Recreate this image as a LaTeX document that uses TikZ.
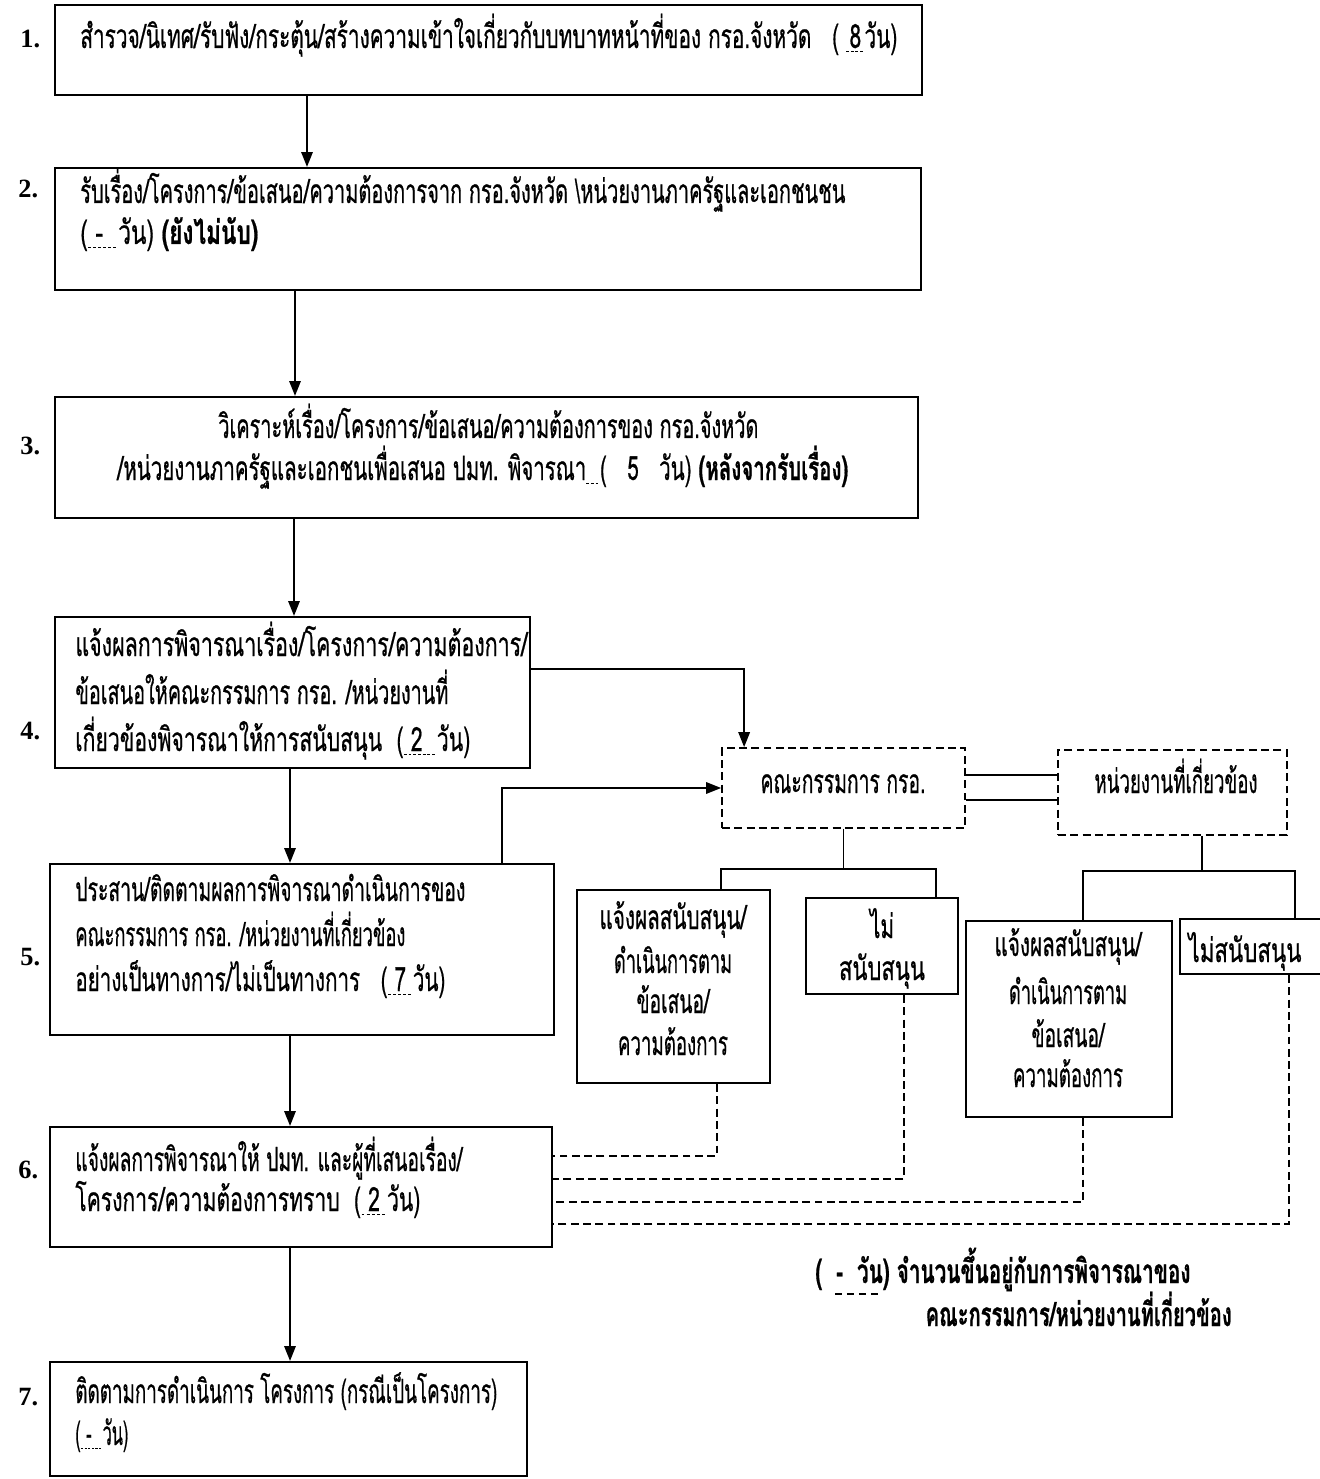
\documentclass[tikz,border=0pt]{standalone}
\usepackage{fontspec}
\usepackage{graphicx}
\setmainfont{Liberation Serif}
\newfontfamily\thai[Script=Thai,FakeBold=0.8]{Loma}
\usetikzlibrary{arrows.meta,calc,fit}
\newlength\px
\setlength\px{0.02cm}
% set a line of text to a given width (in px units), keeping its height
\newcommand\fitto[2]{\resizebox{#1\px}{\height}{#2}}
% text with a dashed underline
\newcommand\du[1]{\setbox0=\hbox{#1}\rlap{\copy0}\raisebox{-2.5pt}{\hbox to \wd0{\xleaders\hbox{\rule{2.5pt}{0.6pt}\hspace{1.5pt}}\hfil}}}

\begin{document}
\begin{tikzpicture}[x=0.02cm,y=-0.02cm,
  box/.style={draw, line width=1.2pt, inner sep=0pt},
  dbox/.style={draw, line width=1pt, dash pattern=on 4.5pt off 2.5pt, inner sep=0pt},
  txt/.style={inner sep=0pt, font=\thai\fontsize{19}{22}\selectfont, anchor=base west},
  ctxt/.style={txt, anchor=base},
  btxt/.style={txt, font=\thai\bfseries\fontsize{19}{22}\selectfont},
  num/.style={inner sep=0pt, font=\bfseries\fontsize{15}{18}\selectfont, anchor=base west},
  con/.style={line width=1pt},
  arr/.style={con, -{Triangle[length=8.5pt,width=6.5pt]}},
  dcon/.style={line width=1pt, dash pattern=on 4.5pt off 2.5pt},
]
\useasboundingbox[fill=white] (0,0) rectangle (1319,1479);

% ---------- main steps ----------
\node[box, fit={(55,5)(922,95)}] (b1) {};
\node[box, fit={(55,168)(921,290)}] (b2) {};
\node[box, fit={(55,397)(918,518)}] (b3) {};
\node[box, fit={(55,617)(530,768)}] (b4) {};
\node[box, fit={(50,864)(554,1035)}] (b5) {};
\node[box, fit={(50,1127)(552,1247)}] (b6) {};
\node[box, fit={(50,1362)(527,1476)}] (b7) {};

\node[num] (n1) at (20,48) {1.};
\node[num] (n2) at (18,198) {2.};
\node[num] (n3) at (20,455) {3.};
\node[num] (n4) at (20,739) {4.};
\node[num] (n5) at (20,965) {5.};
\node[num] (n6) at (18,1178) {6.};
\node[num] (n7) at (18,1405) {7.};

\node[txt] (t1) at (80,48) {\fitto{817}{สำรวจ/นิเทศ/รับฟัง/กระตุ้น/สร้างความเข้าใจเกี่ยวกับบทบาทหน้าที่ของ กรอ.จังหวัด\quad ( \du{\,8\,}วัน)}};

\node[txt] (t2a) at (80,203) {\fitto{765}{รับเรื่อง/โครงการ/ข้อเสนอ/ความต้องการจาก กรอ.จังหวัด \textbackslash หน่วยงานภาครัฐและเอกชนชน}};
\node[txt] (t2b) at (80,244) {\fitto{178}{(\du{\ -\ \ }วัน) \textbf{(ยังไม่นับ)}}};

\node[txt] (t3a) at (218,438) {\fitto{540}{วิเคราะห์เรื่อง/โครงการ/ข้อเสนอ/ความต้องการของ กรอ.จังหวัด}};
\node[txt] (t3b) at (117,480) {\fitto{731}{/หน่วยงานภาครัฐและเอกชนเพื่อเสนอ ปมท. พิจารณา\du{\ \ }(\quad 5\quad วัน) \textbf{(หลังจากรับเรื่อง)}}};

\node[txt] (t4a) at (75,656) {\fitto{452}{แจ้งผลการพิจารณาเรื่อง/โครงการ/ความต้องการ/}};
\node[txt] (t4b) at (75,704) {\fitto{373}{ข้อเสนอให้คณะกรรมการ กรอ. /หน่วยงานที่}};
\node[txt] (t4c) at (75,751) {\fitto{395}{เกี่ยวข้องพิจารณาให้การสนับสนุน \ (\du{\ 2\ \ }วัน)}};

\node[txt] (t5a) at (75,901) {\fitto{390}{ประสาน/ติดตามผลการพิจารณาดำเนินการของ}};
\node[txt] (t5b) at (75,946) {\fitto{330}{คณะกรรมการ กรอ. /หน่วยงานที่เกี่ยวข้อง}};
\node[txt] (t5c) at (75,991) {\fitto{370}{อย่างเป็นทางการ/ไม่เป็นทางการ\quad (\du{\ 7\ }วัน)}};

\node[txt] (t6a) at (75,1171) {\fitto{387}{แจ้งผลการพิจารณาให้ ปมท. และผู้ที่เสนอเรื่อง/}};
\node[txt] (t6b) at (75,1211) {\fitto{345}{โครงการ/ความต้องการทราบ \ (\du{\ 2\ }วัน)}};

\node[txt] (t7a) at (75,1403) {\fitto{422}{ติดตามการดำเนินการ โครงการ (กรณีเป็นโครงการ)}};
\node[txt] (t7b) at (75,1445) {\fitto{53}{(\du{\ -\ \ }วัน)}};

% ---------- committee and agencies ----------
\node[dbox, fit={(722,748)(965,828)}] (com) {};
\node[dbox, fit={(1058,750)(1287,835)}] (ag) {};
\node[ctxt] (tcom) at (843,793) {\fitto{165}{คณะกรรมการ กรอ.}};
\node[ctxt] (tag) at (1176,793) {\fitto{163}{หน่วยงานที่เกี่ยวข้อง}};

\node[box, fit={(577,890)(770,1083)}] (A) {};
\node[box, fit={(806,898)(958,994)}] (B) {};
\node[box, fit={(966,921)(1172,1117)}] (C) {};
\node[box, fit={(1180,919)(1335,974)}] (D) {};

\node[ctxt] (tA1) at (673,929) {\fitto{147}{แจ้งผลสนับสนุน/}};
\node[ctxt] (tA2) at (673,973) {\fitto{118}{ดำเนินการตาม}};
\node[ctxt] (tA3) at (673,1013) {\fitto{73}{ข้อเสนอ/}};
\node[ctxt] (tA4) at (673,1055) {\fitto{110}{ความต้องการ}};

\node[ctxt] (tB1) at (882,938) {\fitto{24}{ไม่}};
\node[ctxt] (tB2) at (882,980) {\fitto{86}{สนับสนุน}};

\node[ctxt] (tC1) at (1068,956) {\fitto{147}{แจ้งผลสนับสนุน/}};
\node[ctxt] (tC2) at (1068,1004) {\fitto{118}{ดำเนินการตาม}};
\node[ctxt] (tC3) at (1068,1047) {\fitto{73}{ข้อเสนอ/}};
\node[ctxt] (tC4) at (1068,1087) {\fitto{110}{ความต้องการ}};

\node[ctxt] (tD) at (1245,962) {\fitto{113}{ไม่สนับสนุน}};

% ---------- legend ----------
\node[btxt] (leg1) at (815,1283) {\fitto{375}{(\ \ -\ \ วัน) จำนวนขึ้นอยู่กับการพิจารณาของ}};
\node[btxt, anchor=base east] (leg2) at (1232,1326) {\fitto{306}{คณะกรรมการ/หน่วยงานที่เกี่ยวข้อง}};
\draw[dcon, dash pattern=on 4pt off 2.8pt] ($(leg1.base west)+(20,11)$) -- ++(44,0);

% ---------- main flow ----------
\coordinate (c1) at (307,0);
\coordinate (c2) at (295,0);
\coordinate (c3) at (294,0);
\coordinate (c4) at (290,0);
\draw[arr] (b1.south -| c1) -- (b2.north -| c1);
\draw[arr] (b2.south -| c2) -- (b3.north -| c2);
\draw[arr] (b3.south -| c3) -- (b4.north -| c3);
\draw[arr] (b4.south -| c4) -- (b5.north -| c4);
\draw[arr] (b5.south -| c4) -- (b6.north -| c4);
\draw[arr] (b6.south -| c4) -- (b7.north -| c4);

% ---------- side branches ----------
\draw[arr] ($(b4.north east)+(0,53)$) -| ($(com.north west)+(23,0)$);
\draw[arr] ($(b5.north west)+(453,0)$) |- (com.west);

\coordinate (e1) at ($(com.east)+(0,-13)$);
\coordinate (e2) at ($(com.east)+(0,12)$);
\draw[con] (e1) -- (e1 -| ag.west);
\draw[con] (e2) -- (e2 -| ag.west);

\coordinate (cj) at ($(com.south)+(0,40)$);
\draw[con] (com.south) -- (cj);
\draw[con] ($(A.north west)+(145,0)$) |- (cj) -| ($(B.north west)+(131,0)$);

\coordinate (aj) at ($(ag.south west)+(145,35)$);
\draw[con] (aj |- ag.south) -- (aj);
\draw[con] ($(C.north west)+(118,0)$) |- (aj) -| ($(D.north west)+(116,0)$);

% ---------- dashed returns to step 6 ----------
\draw[dcon] ($(A.south west)+(141,0)$) |- ($(b6.north east)+(0,30)$);
\draw[dcon] ($(B.south west)+(99,0)$) |- ($(b6.north east)+(0,53)$);
\draw[dcon] ($(C.south west)+(118,0)$) |- ($(b6.north east)+(0,76)$);
\draw[dcon] ($(D.south west)+(110,0)$) |- ($(b6.north east)+(0,98)$);
\end{tikzpicture}
\end{document}
